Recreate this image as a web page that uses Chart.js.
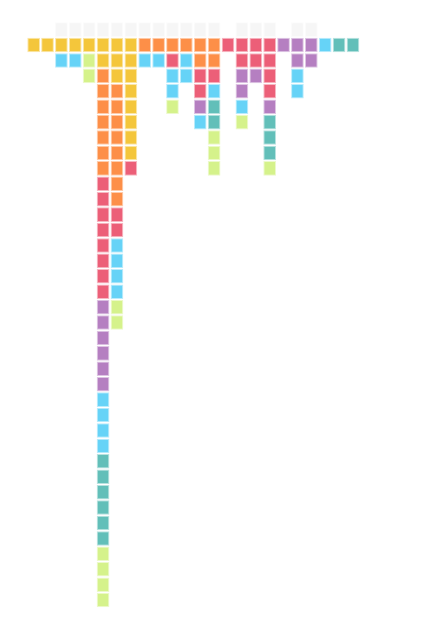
<!DOCTYPE html>
<html><head><meta charset="utf-8">
<script src="https://cdn.jsdelivr.net/npm/chart.js@4/dist/chart.umd.min.js"></script>
<style>html,body{margin:0;padding:0;background:#fff}#wrap{width:446px;height:640px;position:relative}</style>
</head><body><div id="wrap"><canvas id="c"></canvas></div>
<script>
// Column categories (no visible labels in the reference)
const columnLabels = ['C1','C2','C3','C4','C5','C6','C7','C8','C9','C10','C11','C12',
  'C13','C14','C15','C16','C17','C18','C19','C20','C21','C22','C23','C24'];
// Cell colours per column, top to bottom (Y yellow, O orange, R red, P purple, B blue, T teal, L lime)
const columnStacks = [
  'Y','Y','YB','YB','YLL',
  'YYOOOOOOORRRRRRRRPPPPPPBBBBTTTTTTLLLL',
  'YYYOOOOOOOORRBBBBLL',
  'YYYYYYYYR',
  'OB','OB','ORBBL','OBB','OORRPB','OORBTTLLL',
  'R','RRPPBL','RRP','RRRRPTTTL',
  'P','PPBB','PP',
  'B','T','T'
];
// Faint grey header cell above each column (1 = present)
const headerColumns = [0,0,1,1,1,1,1,1,1,1,1,1,1,1,0,1,1,1,0,1,1,0,0,0];
const paletteKeys = ['Y','O','R','P','B','T','L'];
const paletteColors = ['#f4c63b','#fd8f48','#ec5f78','#b57fc1','#66d3f7','#62bfb9','#d5f28b'];
const headerColor = '#f6f6f6';

const palette = {};
paletteKeys.forEach((k,i)=>palette[k]=paletteColors[i]);
function soft(hex){
  const n=parseInt(hex.slice(1),16);
  return 'rgba('+((n>>16)&255)+','+((n>>8)&255)+','+(n&255)+',0.45)';
}
const INSET = 0.028;
const maxDepth = Math.max(...columnStacks.map(s=>s.length));
const datasets = [{
  label:'header',
  data: headerColumns.map(h => h ? [-1-0.5+INSET, -1+0.5-INSET] : null),
  backgroundColor: headerColor,
  borderColor: '#fbfbfb',
  borderWidth: 1
}];
for (let r=0;r<maxDepth;r++){
  datasets.push({
    label:'row'+r,
    data: columnStacks.map(s => r < s.length ? [r-0.5+INSET, r+0.5-INSET] : null),
    backgroundColor: columnStacks.map(s => r < s.length ? palette[s[r]] : 'transparent'),
    borderColor: columnStacks.map(s => r < s.length ? soft(palette[s[r]]) : 'transparent'),
    borderWidth: 1
  });
}
new Chart(document.getElementById('c'), {
  type:'bar',
  data:{labels:columnLabels, datasets},
  options:{
    responsive:true, maintainAspectRatio:false, animation:false,
    datasets:{bar:{grouped:false, categoryPercentage:0.915, barPercentage:1, borderSkipped:false}},
    layout:{padding:{left:26.7,right:86.1,top:21.9,bottom:32.2}},
    plugins:{legend:{display:false}, tooltip:{enabled:false}},
    scales:{
      x:{display:false, offset:true},
      y:{display:false, reverse:true, min:-1.5, max:maxDepth-0.5}
    }
  }
});
</script>
</body></html>
